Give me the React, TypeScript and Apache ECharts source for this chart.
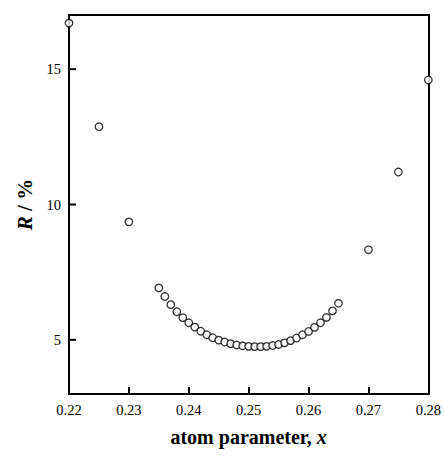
import React, { useEffect, useRef } from "react";
import * as echarts from "echarts";

// Reliability factor R (%) against the refined atom parameter x
const coarseX = [0.22, 0.225, 0.23, 0.27, 0.275, 0.28];
const coarseR = [16.7, 12.87, 9.36, 8.33, 11.2, 14.6];

const fineX = [
  0.235, 0.236, 0.237, 0.238, 0.239, 0.24, 0.241, 0.242, 0.243, 0.244, 0.245,
  0.246, 0.247, 0.248, 0.249, 0.25, 0.251, 0.252, 0.253, 0.254, 0.255, 0.256,
  0.257, 0.258, 0.259, 0.26, 0.261, 0.262, 0.263, 0.264, 0.265,
];
const fineR = [
  6.92, 6.6, 6.3, 6.04, 5.82, 5.63, 5.47, 5.32, 5.19, 5.08, 4.99, 4.92, 4.86,
  4.81, 4.78, 4.76, 4.75, 4.75, 4.76, 4.79, 4.83, 4.89, 4.97, 5.07, 5.19, 5.31,
  5.46, 5.63, 5.83, 6.07, 6.35,
];

const X_MIN = 0.22;
const X_MAX = 0.28;
const X_STEP = 0.01;
const Y_MIN = 3;
const Y_MAX = 17;
const yTicks = [5, 10, 15];

const FONT = "'Liberation Serif', 'DejaVu Serif', serif";
const TICK_LEN = 7;
const TICK_W = 2;
const TICK_COLOR = "#000";
const FRAME = { color: "#000", width: 2 };

export default function App() {
  const ref = useRef<HTMLDivElement>(null);

  useEffect(() => {
    if (!ref.current) return;
    const chart = echarts.init(ref.current, undefined, { renderer: "svg" });
    const points = [
      ...coarseX.map((x, i) => [x, coarseR[i]]),
      ...fineX.map((x, i) => [x, fineR[i]]),
    ];
    const titleRich = (size: number) => ({
      b: { fontFamily: FONT, fontWeight: "bold", fontSize: size, color: "#000" },
      i: {
        fontFamily: FONT,
        fontWeight: "bold",
        fontStyle: "italic",
        fontSize: size,
        color: "#000",
      },
    });
    chart.setOption({
      animation: false,
      grid: { left: 69, right: 14, top: 15, bottom: 62 },
      xAxis: [
        {
          type: "value",
          min: X_MIN,
          max: X_MAX,
          interval: X_STEP,
          name: "{b|atom parameter, }{i|x}",
          nameLocation: "middle",
          nameGap: 33,
          nameTextStyle: { rich: titleRich(20) },
          axisLine: { show: true, onZero: false, lineStyle: FRAME },
          axisTick: {
            show: true,
            inside: true,
            length: TICK_LEN,
            lineStyle: { color: TICK_COLOR, width: TICK_W },
          },
          axisLabel: {
            formatter: (v: number) => v.toFixed(2),
            fontFamily: FONT,
            fontSize: 14.5,
            color: "#000",
            margin: 8,
          },
          splitLine: { show: false },
        },
        {
          // top side of the frame
          type: "value",
          position: "top",
          min: X_MIN,
          max: X_MAX,
          axisLine: { show: true, onZero: false, lineStyle: FRAME },
          axisTick: { show: false },
          axisLabel: { show: false },
          splitLine: { show: false },
        },
      ],
      yAxis: [
        {
          type: "value",
          min: Y_MIN,
          max: Y_MAX,
          name: "{i|R}{b| / %}",
          nameLocation: "middle",
          nameGap: 30,
          nameRotate: 90,
          nameTextStyle: { rich: titleRich(21) },
          axisLine: { show: true, onZero: false, lineStyle: FRAME },
          axisTick: { show: false },
          axisLabel: {
            customValues: yTicks,
            fontFamily: FONT,
            fontSize: 14.5,
            color: "#000",
            margin: 8,
          },
          splitLine: { show: false },
        },
        {
          // right side of the frame
          type: "value",
          position: "right",
          min: Y_MIN,
          max: Y_MAX,
          axisLine: { show: true, onZero: false, lineStyle: FRAME },
          axisTick: { show: false },
          axisLabel: { show: false },
          splitLine: { show: false },
        },
      ],
      series: [
        {
          // inward ticks on the R axis at the labelled values
          type: "custom",
          clip: false,
          silent: true,
          data: yTicks.map((v) => [X_MIN, v]),
          renderItem: (_params: any, api: any) => {
            const p = api.coord([api.value(0), api.value(1)]);
            return {
              type: "line",
              shape: { x1: p[0], y1: p[1], x2: p[0] + TICK_LEN, y2: p[1] },
              style: { stroke: TICK_COLOR, lineWidth: TICK_W },
            };
          },
        },
        {
          type: "scatter",
          data: points,
          symbol: "circle",
          symbolSize: 7.5,
          clip: false,
          itemStyle: { color: "#fff", borderColor: "#000", borderWidth: 1.3 },
          z: 5,
        },
      ],
    });
    return () => chart.dispose();
  }, []);

  return (
    <div
      ref={ref}
      style={{ position: "absolute", left: 0, top: 0, width: 444, height: 456 }}
    />
  );
}
